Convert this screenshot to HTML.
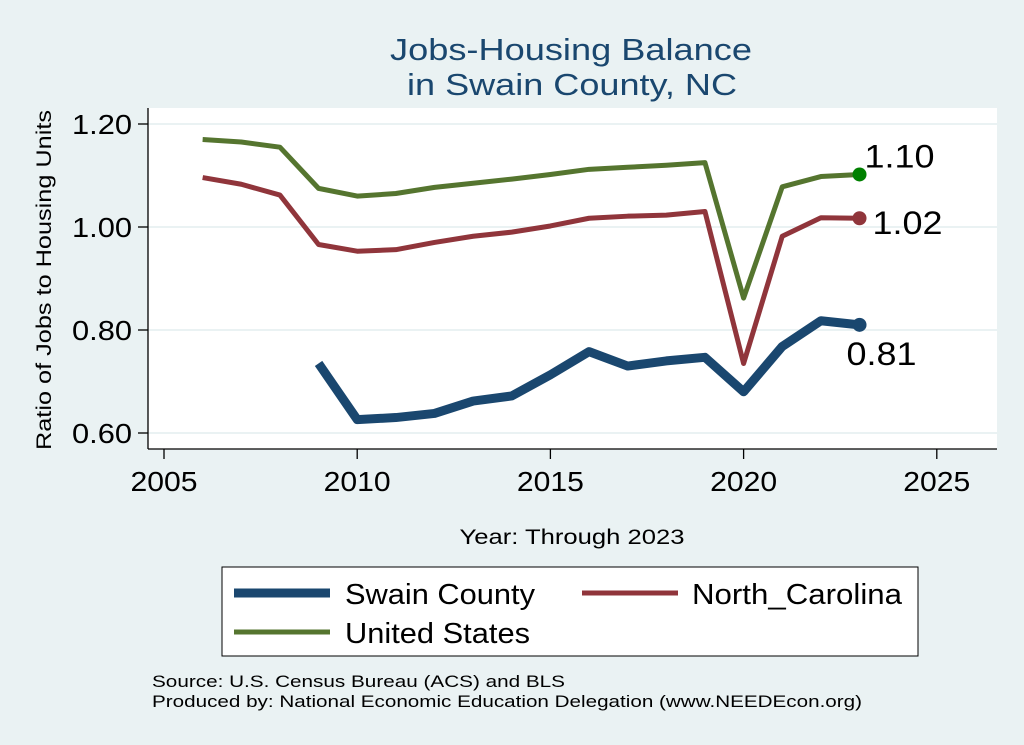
<!DOCTYPE html>
<html><head><meta charset="utf-8"><style>
body{margin:0;background:#eaf2f3;}
svg{display:block;font-family:"Liberation Sans",Arial,sans-serif;}
</style></head><body>
<svg id="chart" width="1024" height="745" viewBox="0 0 1024 745">
<rect x="0" y="0" width="1024" height="745" fill="#eaf2f3"/>
<text x="571" y="60" font-size="31" fill="#1a476f" text-anchor="middle" textLength="362" lengthAdjust="spacingAndGlyphs">Jobs-Housing Balance</text>
<text x="572" y="95" font-size="31" fill="#1a476f" text-anchor="middle" textLength="330" lengthAdjust="spacingAndGlyphs">in Swain County, NC</text>
<rect x="148" y="108" width="849" height="341" fill="#ffffff"/>
<g id="grid"></g>
<g id="axes"></g>
<g id="series"></g>
<text transform="translate(51,280) rotate(-90)" font-size="21" text-anchor="middle" fill="#000" textLength="340" lengthAdjust="spacingAndGlyphs">Ratio of Jobs to Housing Units</text>
<text x="572" y="544" font-size="21" text-anchor="middle" fill="#000" textLength="225" lengthAdjust="spacingAndGlyphs">Year: Through 2023</text>
<g>
<rect x="222" y="567" width="696" height="89" fill="#fff" stroke="#000" stroke-width="1"/>
<g><line x1="234" y1="593" x2="330" y2="593" stroke="#1a476f" stroke-width="9"/><text x="345" y="604" font-size="29" textLength="190" lengthAdjust="spacingAndGlyphs">Swain County</text></g>
<g><line x1="582" y1="593" x2="678" y2="593" stroke="#90353b" stroke-width="5"/><text x="692" y="604" font-size="29" textLength="210" lengthAdjust="spacingAndGlyphs">North_Carolina</text></g>
<g><line x1="234" y1="632" x2="330" y2="632" stroke="#55752f" stroke-width="5"/><text x="345" y="643" font-size="29" textLength="185" lengthAdjust="spacingAndGlyphs">United States</text></g>
</g>
<text x="152" y="687" font-size="17" textLength="413" lengthAdjust="spacingAndGlyphs">Source: U.S. Census Bureau (ACS) and BLS</text>
<text x="152" y="707" font-size="17" textLength="710" lengthAdjust="spacingAndGlyphs">Produced by: National Economic Education Delegation (www.NEEDEcon.org)</text>
</svg>
<script>
const xTicks=[2005,2010,2015,2020,2025];
const yTicks=[0.6,0.8,1.0,1.2];
const yTickLabels=["0.60","0.80","1.00","1.20"];
const usYears=[2006,2007,2008,2009,2010,2011,2012,2013,2014,2015,2016,2017,2018,2019,2020,2021,2022,2023];
const usValues=[1.17,1.165,1.155,1.075,1.06,1.065,1.077,1.085,1.093,1.102,1.112,1.116,1.12,1.125,0.862,1.078,1.098,1.102];
const ncYears=[2006,2007,2008,2009,2010,2011,2012,2013,2014,2015,2016,2017,2018,2019,2020,2021,2022,2023];
const ncValues=[1.096,1.083,1.062,0.966,0.953,0.956,0.97,0.982,0.99,1.002,1.017,1.021,1.023,1.03,0.735,0.982,1.018,1.017];
const swYears=[2009,2010,2011,2012,2013,2014,2015,2016,2017,2018,2019,2020,2021,2022,2023];
const swValues=[0.735,0.626,0.63,0.638,0.662,0.672,0.713,0.758,0.73,0.74,0.747,0.68,0.768,0.818,0.81];
const endLabels=["1.10","1.02","0.81"];
const NS="http://www.w3.org/2000/svg";
const xS=y=>164+(y-2005)*38.64;
const yS=v=>433-(v-0.6)*515;
function mk(t,a,p){const e=document.createElementNS(NS,t);for(const k in a)e.setAttribute(k,a[k]);p.appendChild(e);return e;}
const grid=document.getElementById('grid'),axes=document.getElementById('axes'),ser=document.getElementById('series');
yTicks.forEach((v,i)=>{
 const g=mk('line',{x1:148,x2:997,y1:yS(v),y2:yS(v),stroke:'#eaf2f3','stroke-width':2},grid);
 
 
 const t=mk('line',{x1:138,x2:148,y1:yS(v),y2:yS(v),stroke:'#000','stroke-width':1.3},axes);
 
 
 const l=mk('text',{x:132,y:yS(v)+10,'font-size':28,'text-anchor':'end',textLength:60,lengthAdjust:'spacingAndGlyphs'},axes);l.textContent=yTickLabels[i];
 
 
});
xTicks.forEach(v=>{
 const t=mk('line',{x1:xS(v),x2:xS(v),y1:449,y2:459,stroke:'#000','stroke-width':1.3},axes);
 
 
 const l=mk('text',{x:xS(v),y:491,'font-size':28,'text-anchor':'middle',textLength:67,lengthAdjust:'spacingAndGlyphs'},axes);l.textContent=v;
 
 
});
const ya=mk('line',{x1:148,x2:148,y1:108,y2:449,stroke:'#000','stroke-width':1.3},axes);


const xa=mk('line',{x1:148,x2:997,y1:449,y2:449,stroke:'#000','stroke-width':1.3},axes);


function line(xs,vs,col,w,name,dot,lab,lx,ly){
 const p=mk('polyline',{points:xs.map((x,i)=>xS(x)+','+yS(vs[i])).join(' '),fill:'none',stroke:col,'stroke-width':w,'stroke-linejoin':'round'},ser);
 
 
 const n=xs.length-1;
 const c=mk('circle',{cx:xS(xs[n]),cy:yS(vs[n]),r:7,fill:dot},ser);
 
 
 const t=mk('text',{x:xS(xs[n])+lx,y:yS(vs[n])+ly,'font-size':32,textLength:70,lengthAdjust:'spacingAndGlyphs'},ser);t.textContent=lab;
 
 
}
line(usYears,usValues,'#55752f',5,'us','#008000',endLabels[0],5,-7);
line(ncYears,ncValues,'#90353b',5,'nc','#90353b',endLabels[1],13,16);
line(swYears,swValues,'#1a476f',9,'swain','#1a476f',endLabels[2],-13,40);
</script>
</body></html>
